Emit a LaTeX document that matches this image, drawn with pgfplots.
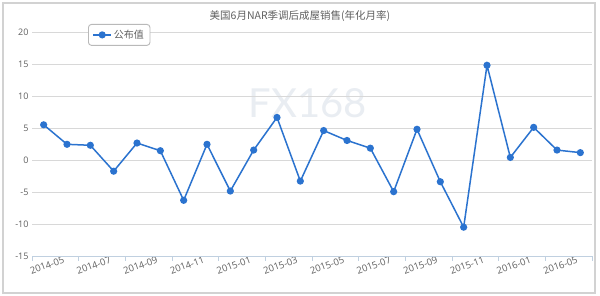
\documentclass[border=0pt]{standalone}
\usepackage{pgfplots}
\pgfplotsset{compat=1.18}
\usepackage{fontspec}
\setmainfont{Open Sans}
\newfontfamily\cjk{Noto Sans CJK SC}
\newfontfamily\wm{Lato}
\definecolor{lineblue}{RGB}{43,115,207}
\definecolor{gridgray}{RGB}{216,216,216}
\definecolor{axisgray}{RGB}{192,208,224}
\definecolor{txtgray}{RGB}{96,96,96}
\definecolor{wmcol}{RGB}{233,237,242}
\begin{document}
\begin{tikzpicture}
\useasboundingbox (0,0) rectangle (600pt,296pt);
\fill[white] (0,0) rectangle (600pt,296pt);
\draw[gray!35, line width=1.6pt] (3pt,3pt) rectangle (595pt,293pt);
\node[wmcol, font=\wm\fontsize{40}{40}\selectfont] at (308pt,193pt) {FX168};
\begin{axis}[
  at={(32pt,40pt)}, anchor=south west,
  scale only axis, width=560pt, height=224pt,
  xmin=-0.5, xmax=23.5, ymin=-15, ymax=20,
  ytick={-15,-10,...,20},
  xtick={0,2,...,22},
  xticklabels={2014-05,2014-07,2014-09,2014-11,2015-01,2015-03,2015-05,2015-07,2015-09,2015-11,2016-01,2016-05},
  extra x ticks={-0.5,1.5,...,23.5},
  extra x tick labels={},
  extra x tick style={major tick length=5pt, tick style={axisgray, line width=0.8pt}, tickpos=left, xticklabel=\empty, ymajorgrids=false, xmajorgrids=false},
  major tick length=0pt,
  ymajorgrids, grid style={gridgray, line width=0.8pt},
  axis line style={draw=none},
  tick align=outside,
  x tick label style={rotate=20, anchor=center, yshift=-10pt, font=\fontsize{9.5}{11}\selectfont, text=txtgray},
  y tick label style={font=\fontsize{9}{11}\selectfont, text=txtgray},
  /pgf/number format/assume math mode=true,
  clip=false,
  legend style={at={(0.1,1.0357)}, anchor=north west, draw=gray!55, line width=0.9pt, rounded corners=3pt, font=\cjk\fontsize{10}{12}\selectfont, text=txtgray, inner xsep=4pt, inner ysep=3.5pt},
  legend image code/.code={\draw[#1, line width=1.5pt] (0pt,0pt) -- (18pt,0pt); \fill[lineblue] (9pt,0pt) circle (2.8pt);},
]
\draw[axisgray, line width=0.8pt] (axis cs:-0.5,-15) -- (axis cs:23.5,-15);
\addplot[lineblue, line width=1.5pt, mark=*, mark size=2.8pt, mark options={fill=lineblue, draw=lineblue}] coordinates {
(0,5.5) (1,2.45) (2,2.3) (3,-1.75) (4,2.65) (5,1.45) (6,-6.3) (7,2.45)
(8,-4.85) (9,1.55) (10,6.65) (11,-3.3) (12,4.6) (13,3.05) (14,1.85) (15,-4.95)
(16,4.8) (17,-3.4) (18,-10.5) (19,14.8) (20,0.4) (21,5.1) (22,1.55) (23,1.15)
};
\addlegendentry{公布值}
\end{axis}
\node[txtgray, font=\cjk\fontsize{10.5}{12}\selectfont] at (300pt,280pt) {美国6月NAR季调后成屋销售(年化月率)};
\end{tikzpicture}
\end{document}
